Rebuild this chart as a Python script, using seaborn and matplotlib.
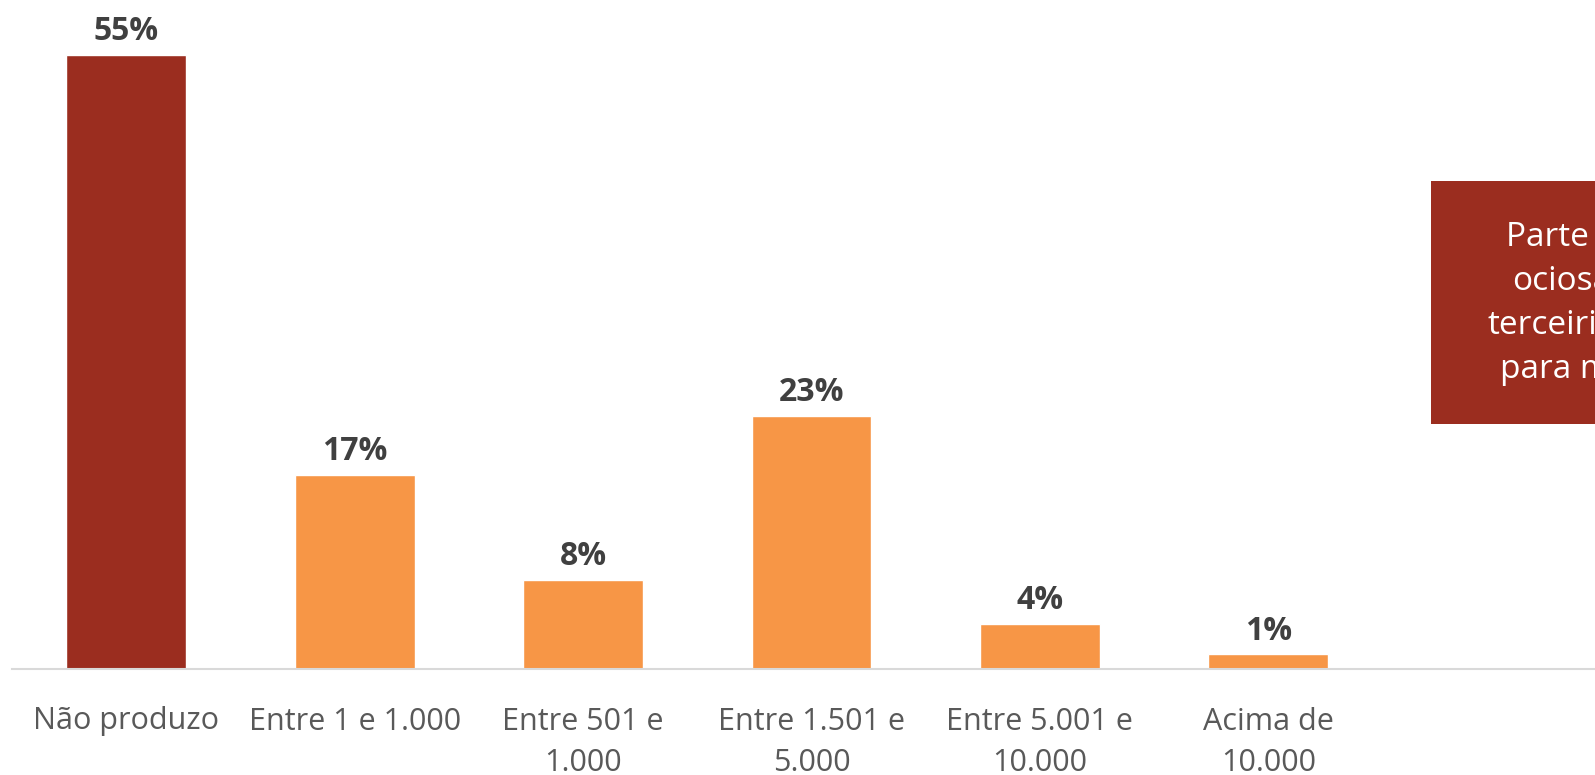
import matplotlib
matplotlib.use('Agg')
import matplotlib.pyplot as plt
import seaborn as sns
import pandas as pd
from matplotlib.patches import Rectangle

# Data (bar heights; labels show rounded values)
categories = ['Não produzo', 'Entre 1 e 1.000', 'Entre 501 e\n1.000', 'Entre 1.501 e\n5.000',
              'Entre 5.001 e\n10.000', 'Acima de\n10.000']
values = [55, 17.4, 8, 22.7, 4, 1.3]
bar_colors = ['#9B2D1F', '#F79646', '#F79646', '#F79646', '#F79646', '#F79646']
box_lines = ['Parte da', 'ociosa', 'terceirizada', 'para marcas']

sns.set_theme(style='white')
plt.rcParams['font.family'] = ['Open Sans', 'DejaVu Sans']

df = pd.DataFrame({'cat': categories, 'val': values})

fig = plt.figure(figsize=(15.95, 7.75), dpi=100)
ax = fig.add_axes([12 / 1595, 1 - 669 / 775, 1 - 12 / 1595, (669 - 55) / 775])

sns.barplot(data=df, x='cat', y='val', hue='cat', palette=bar_colors, legend=False,
            width=0.525, saturation=1, ax=ax)

ax.set_xlim(-0.5, 6.43)
ax.set_ylim(0, 55)
ax.set_xlabel('')
ax.set_ylabel('')
ax.set_yticks([])
for s in ['top', 'right', 'left']:
    ax.spines[s].set_visible(False)
ax.spines['bottom'].set_color('#D9D9D9')
ax.spines['bottom'].set_linewidth(1.5)
ax.tick_params(axis='x', length=0, pad=27, labelsize=22, labelcolor='#595959')
for lab in ax.get_xticklabels():
    lab.set_linespacing(1.5)

for bar, v in zip(ax.patches, values):
    ax.annotate(f'{round(v)}%', (bar.get_x() + bar.get_width() / 2, bar.get_height()),
                xytext=(0, 5), textcoords='offset points', ha='center', va='bottom',
                fontsize=23, fontweight='bold', color='#404040', annotation_clip=False)

# Side note box, cut by the right edge (as in the original)
fig.patches.append(Rectangle((1431 / 1595, 1 - 424 / 775), 0.2, (424 - 181) / 775,
                             transform=fig.transFigure, facecolor='#9B2D1F',
                             edgecolor='none', zorder=5))
starts = [1506, 1512, 1487, 1500]
for i, (txt, x0) in enumerate(zip(box_lines, starts)):
    fig.text(x0 / 1595, 1 - (238 + i * 44) / 775, txt, ha='left', va='center',
             fontsize=24, color='white', zorder=6)

fig.savefig('out.png', dpi=100)
